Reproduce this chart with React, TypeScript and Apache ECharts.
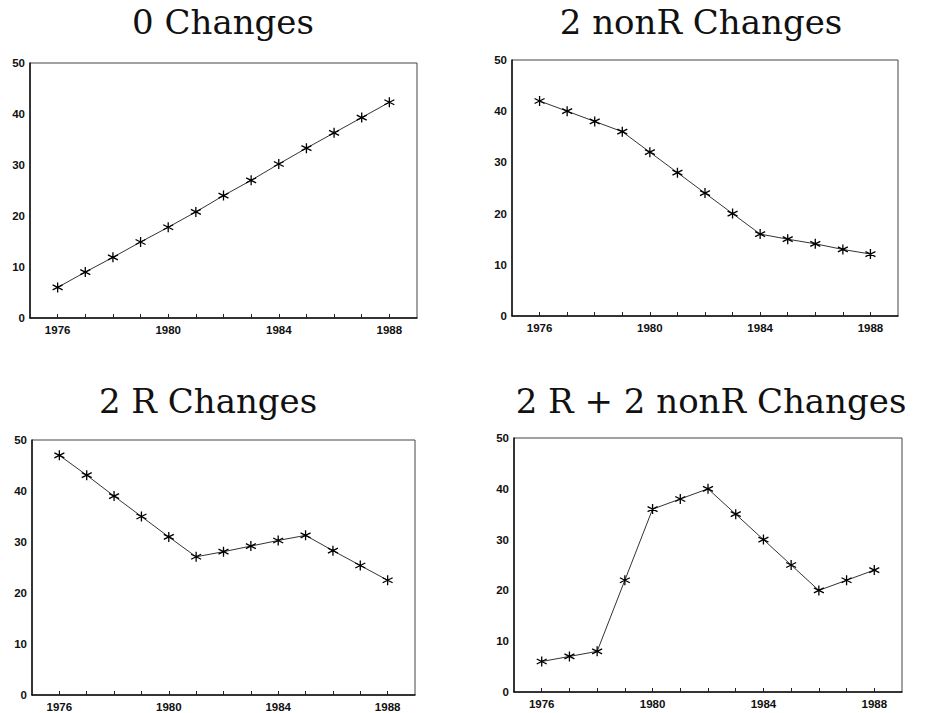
import React, { useEffect, useRef } from "react";
import * as echarts from "echarts";

const years = [1976, 1977, 1978, 1979, 1980, 1981, 1982, 1983, 1984, 1985, 1986, 1987, 1988];
const zeroChanges = [6, 9, 11.9, 14.9, 17.8, 20.8, 24, 27, 30.2, 33.3, 36.3, 39.3, 42.3];
const twoNonR = [42, 40, 38, 36, 32, 28, 24, 20, 16, 15, 14.1, 13, 12.1];
const twoR = [47, 43.1, 39, 35, 31, 27.1, 28.1, 29.2, 30.3, 31.3, 28.3, 25.4, 22.5];
const twoRTwoNonR = [6, 7, 8, 22, 36, 38, 40, 35, 30, 25, 20, 22, 24];
const titles = ["0 Changes", "2 nonR Changes", "2 R Changes", "2 R + 2 nonR Changes"];
const seriesList = [zeroChanges, twoNonR, twoR, twoRTwoNonR];
const labeledYears = [1976, 1980, 1984, 1988];

const grids = [
  { left: 30, top: 63, width: 387, height: 255 },
  { left: 512, top: 60, width: 386, height: 256 },
  { left: 32, top: 440, width: 383, height: 255 },
  { left: 514, top: 438, width: 388, height: 254 },
];
const titlePos = [
  { x: 223, y: 22 },
  { x: 701, y: 22 },
  { x: 208, y: 401 },
  { x: 711, y: 401 },
];

const asterisk =
  "path://M0,-5L0,5M-4.33,-2.5L4.33,2.5M-4.33,2.5L4.33,-2.5";

export default function App() {
  const ref = useRef<HTMLDivElement>(null);
  useEffect(() => {
    if (!ref.current) return;
    const chart = echarts.init(ref.current, undefined, { renderer: "svg" });
    const labelStyle = {
      fontFamily: "Liberation Sans",
      fontWeight: "bold" as const,
      fontSize: 11.5,
      color: "#111",
    };
    chart.setOption({
      animation: false,
      backgroundColor: "#fff",
      grid: grids.map((g) => ({
        ...g,
        show: true,
        borderColor: "#444",
        borderWidth: 1,
        backgroundColor: "transparent",
        containLabel: false,
      })),
      xAxis: grids.map((_, i) => ({
        type: "value",
        gridIndex: i,
        min: 1975,
        max: 1989,
        interval: 1,
        splitLine: { show: false },
        axisLine: { show: true, onZero: false, lineStyle: { color: "#111", width: 1.5 } },
        axisTick: { show: true, inside: true, length: 4, lineStyle: { color: "#222" } },
        axisLabel: {
          ...labelStyle,
          margin: 6,
          showMinLabel: false,
          showMaxLabel: false,
          formatter: (v: number) => (labeledYears.includes(v) ? String(v) : ""),
        },
      })),
      yAxis: grids.map((_, i) => ({
        type: "value",
        gridIndex: i,
        min: 0,
        max: 50,
        interval: 10,
        splitLine: { show: false },
        axisLine: { show: true, onZero: false, lineStyle: { color: "#111", width: 1.5 } },
        axisTick: { show: false },
        axisLabel: { ...labelStyle, margin: 5 },
      })),
      series: seriesList.map((vals, i) => ({
        type: "line",
        xAxisIndex: i,
        yAxisIndex: i,
        data: years.map((y, j) => [y, vals[j]]),
        symbol: asterisk,
        symbolSize: 10,
        showAllSymbol: true,
        lineStyle: { color: "#333", width: 1 },
        itemStyle: { color: "#000", borderColor: "#000", borderWidth: 1.3 },
      })),
      graphic: titles.map((t, i) => ({
        type: "text",
        x: titlePos[i].x,
        y: titlePos[i].y,
        style: {
          text: t,
          font: "normal 34px 'DejaVu Serif'",
          fill: "#111",
          textAlign: "center",
          textVerticalAlign: "middle",
        },
      })),
    });
    return () => chart.dispose();
  }, []);
  return (
    <div
      ref={ref}
      style={{ position: "fixed", left: 0, top: 0, width: 929, height: 713, background: "#fff" }}
    />
  );
}
